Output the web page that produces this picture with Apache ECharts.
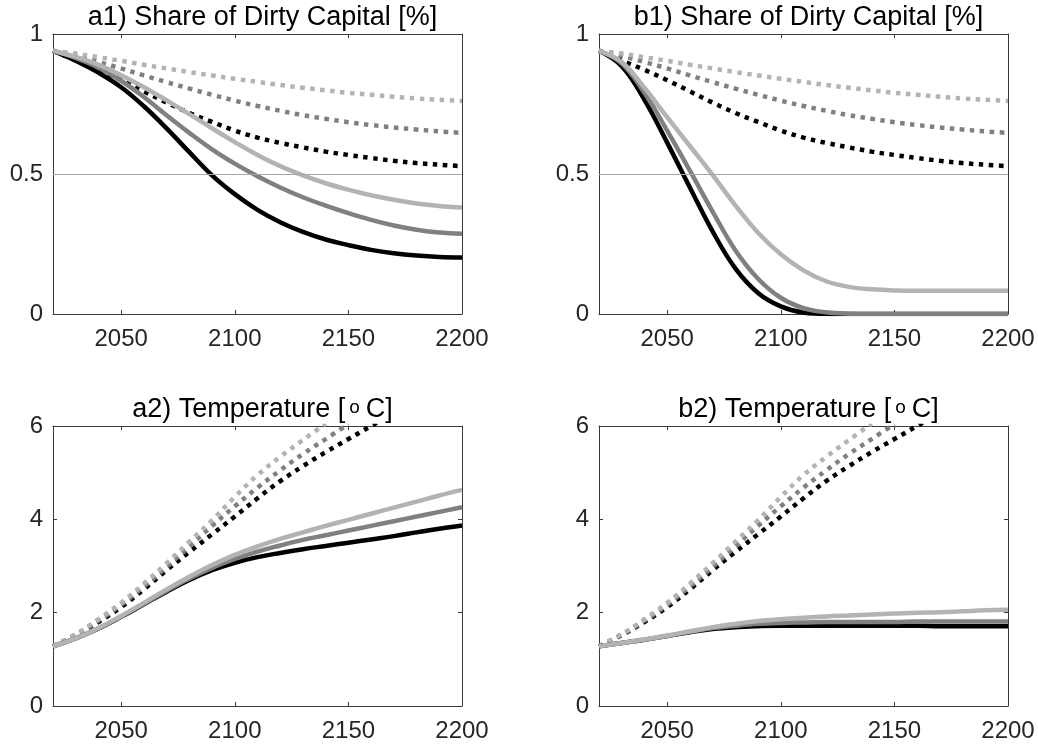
<!DOCTYPE html>
<html>
<head>
<meta charset="utf-8">
<title>Dirty capital share and temperature paths</title>
<script src="https://cdn.jsdelivr.net/npm/echarts@6/dist/echarts.min.js"></script>
<style>
  html, body { margin: 0; padding: 0; background: #ffffff; }
  #chart { width: 1038px; height: 748px; }
</style>
</head>
<body>
<div id="chart"></div>
<script>
// ---- data -------------------------------------------------------------
const years = [2020, 2030, 2040, 2050, 2060, 2070, 2080, 2090, 2100, 2110,
               2120, 2130, 2140, 2150, 2160, 2170, 2180, 2190, 2200];

const xTicks = [2050, 2100, 2150, 2200];
const shareTicksInterval = 0.5;
const tempTicksInterval = 2;
const threshold = 0.5;

// the degree ring is a small rich-text token so it can be sized on its own
const panelTitles = [
  'a1) Share of Dirty Capital [%]',
  'b1) Share of Dirty Capital [%]',
  'a2) Temperature [{deg|o}C]',
  'b2) Temperature [{deg|o}C]'
];

// share of dirty capital, panel a (solid)
const shareA_black = [0.94, 0.905, 0.862, 0.81, 0.742, 0.663, 0.578, 0.495, 0.428, 0.372,
                      0.328, 0.293, 0.266, 0.246, 0.229, 0.217, 0.209, 0.204, 0.202];
const shareA_gray  = [0.94, 0.915, 0.88, 0.833, 0.775, 0.71, 0.647, 0.588, 0.537, 0.492,
                      0.452, 0.417, 0.387, 0.36, 0.336, 0.316, 0.301, 0.291, 0.287];
const shareA_light = [0.94, 0.918, 0.89, 0.853, 0.81, 0.763, 0.714, 0.663, 0.614, 0.568,
                      0.528, 0.495, 0.467, 0.444, 0.424, 0.408, 0.395, 0.386, 0.38];

// share of dirty capital, panel b (solid)
const shareB_black = [0.94, 0.885, 0.765, 0.612, 0.452, 0.295, 0.163, 0.075, 0.027, 0.005,
                      0, 0, 0, 0, 0, 0, 0, 0, 0];
const shareB_gray  = [0.94, 0.895, 0.79, 0.655, 0.512, 0.366, 0.228, 0.126, 0.058, 0.021,
                      0.006, 0.001, 0, 0, 0, 0, 0, 0, 0];
const shareB_light = [0.94, 0.9, 0.808, 0.703, 0.6, 0.497, 0.388, 0.29, 0.213, 0.156,
                      0.117, 0.097, 0.088, 0.084, 0.083, 0.083, 0.083, 0.083, 0.083];

// share of dirty capital, dotted paths (same in both panels)
const shareDot_black = [0.94, 0.905, 0.872, 0.835, 0.795, 0.755, 0.718, 0.686, 0.655, 0.63,
                        0.611, 0.595, 0.58, 0.568, 0.557, 0.547, 0.539, 0.533, 0.528];
const shareDot_gray  = [0.94, 0.922, 0.9, 0.877, 0.852, 0.828, 0.805, 0.783, 0.762, 0.743,
                        0.726, 0.71, 0.697, 0.685, 0.675, 0.666, 0.659, 0.652, 0.647];
const shareDot_light = [0.94, 0.93, 0.917, 0.904, 0.89, 0.877, 0.864, 0.852, 0.84, 0.829,
                        0.818, 0.808, 0.799, 0.79, 0.783, 0.776, 0.77, 0.765, 0.761];

// temperature, panel a (solid)
const tempA_black = [1.28, 1.45, 1.66, 1.91, 2.18, 2.45, 2.7, 2.91, 3.07, 3.19,
                     3.28, 3.36, 3.43, 3.5, 3.57, 3.64, 3.72, 3.8, 3.87];
const tempA_gray  = [1.28, 1.45, 1.66, 1.92, 2.19, 2.47, 2.73, 2.96, 3.15, 3.31,
                     3.44, 3.56, 3.66, 3.76, 3.86, 3.96, 4.06, 4.16, 4.26];
const tempA_light = [1.28, 1.45, 1.67, 1.93, 2.21, 2.5, 2.77, 3.02, 3.24, 3.42,
                     3.58, 3.72, 3.86, 3.99, 4.12, 4.25, 4.38, 4.51, 4.63];

// temperature, panel b (solid)
const tempB_black = [1.28, 1.35, 1.42, 1.5, 1.58, 1.65, 1.69, 1.71, 1.72, 1.72,
                     1.72, 1.72, 1.72, 1.72, 1.72, 1.71, 1.71, 1.71, 1.71];
const tempB_gray  = [1.28, 1.35, 1.42, 1.5, 1.59, 1.67, 1.72, 1.76, 1.78, 1.79,
                     1.8, 1.8, 1.8, 1.8, 1.81, 1.81, 1.81, 1.81, 1.81];
const tempB_light = [1.28, 1.35, 1.43, 1.51, 1.6, 1.69, 1.76, 1.82, 1.86, 1.89,
                     1.92, 1.94, 1.96, 1.98, 2.0, 2.01, 2.03, 2.05, 2.06];

// temperature, dotted paths (same in both panels; run past the top of the axis)
const tempDot_black = [1.28, 1.52, 1.8, 2.12, 2.5, 2.91, 3.3, 3.68, 4.06, 4.45,
                       4.82, 5.14, 5.44, 5.72, 6.0, 6.27];
const tempDot_gray  = [1.28, 1.53, 1.83, 2.17, 2.56, 2.98, 3.42, 3.86, 4.28, 4.68,
                       5.05, 5.4, 5.72, 6.04];
const tempDot_light = [1.28, 1.54, 1.86, 2.21, 2.62, 3.06, 3.52, 3.98, 4.48, 4.95,
                       5.34, 5.7, 6.05];

// ---- styling ----------------------------------------------------------
const FONT = '"Liberation Sans", Arial, Helvetica, sans-serif';
const AXIS_COLOR = '#3a3a3a';
const C_BLACK = '#000000';
const C_GRAY = '#808080';
const C_LIGHT = '#b3b3b3';

const grids = [
  { left: 53,  top: 34,  width: 409, height: 280 },
  { left: 599, top: 34,  width: 409, height: 280 },
  { left: 53,  top: 426, width: 409, height: 280 },
  { left: 599, top: 426, width: 409, height: 280 }
];

const zip = (vals) => vals.map((v, i) => [years[i], v]);

const panels = [
  { solid: [shareA_black, shareA_gray, shareA_light],
    dotted: [shareDot_black, shareDot_gray, shareDot_light],
    yMax: 1, yInterval: shareTicksInterval, refLine: true },
  { solid: [shareB_black, shareB_gray, shareB_light],
    dotted: [shareDot_black, shareDot_gray, shareDot_light],
    yMax: 1, yInterval: shareTicksInterval, refLine: true },
  { solid: [tempA_black, tempA_gray, tempA_light],
    dotted: [tempDot_black, tempDot_gray, tempDot_light],
    yMax: 6, yInterval: tempTicksInterval, refLine: false },
  { solid: [tempB_black, tempB_gray, tempB_light],
    dotted: [tempDot_black, tempDot_gray, tempDot_light],
    yMax: 6, yInterval: tempTicksInterval, refLine: false }
];

const colors = [C_BLACK, C_GRAY, C_LIGHT];

const xAxes = [];
const yAxes = [];
const series = [];
const titles = [];

panels.forEach((p, i) => {
  const g = grids[i];
  titles.push({
    text: panelTitles[i],
    left: g.left + g.width / 2,
    top: g.top - 37,
    textAlign: 'center',
    textStyle: {
      fontFamily: FONT, fontSize: 27, lineHeight: 31, fontWeight: 'normal', color: '#000',
      rich: {
        deg: { fontFamily: FONT, fontSize: 19, lineHeight: 31, color: '#000',
               padding: [0, 6, 4, 4] }
      }
    }
  });

  const axisLine = { show: true, onZero: false, lineStyle: { color: AXIS_COLOR, width: 1 } };
  const tick = { show: true, inside: true, length: 4, lineStyle: { color: AXIS_COLOR, width: 1 } };

  // bottom x axis with labels
  xAxes.push({
    type: 'value', gridIndex: i, position: 'bottom', min: 2020, max: 2200,
    axisLine: axisLine,
    axisTick: Object.assign({}, tick, { customValues: xTicks }),
    axisLabel: {
      show: true, customValues: xTicks, margin: 13,
      formatter: (v) => String(v),
      fontFamily: FONT, fontSize: 24, color: '#262626'
    },
    splitLine: { show: false }
  });
  // top x axis: ticks only
  xAxes.push({
    type: 'value', gridIndex: i, position: 'top', min: 2020, max: 2200,
    axisLine: axisLine,
    axisTick: Object.assign({}, tick, { customValues: xTicks }),
    axisLabel: { show: false },
    splitLine: { show: false }
  });
  // left y axis with labels
  yAxes.push({
    type: 'value', gridIndex: i, position: 'left', min: 0, max: p.yMax, interval: p.yInterval,
    axisLine: axisLine, axisTick: tick,
    axisLabel: { show: true, margin: 10, formatter: (v) => String(v),
                 fontFamily: FONT, fontSize: 24, color: '#262626' },
    splitLine: { show: false }
  });
  // right y axis: ticks only
  yAxes.push({
    type: 'value', gridIndex: i, position: 'right', min: 0, max: p.yMax, interval: p.yInterval,
    axisLine: axisLine, axisTick: tick,
    axisLabel: { show: false },
    splitLine: { show: false }
  });

  const xIdx = i * 2;
  const yIdx = i * 2;

  // dotted paths drawn first
  p.dotted.forEach((vals, k) => {
    series.push({
      type: 'line', xAxisIndex: xIdx, yAxisIndex: yIdx,
      data: zip(vals), showSymbol: false, smooth: 0.4, clip: true,
      lineStyle: { color: colors[k], width: 4.5, type: [4.5, 5.5], cap: 'butt' },
      z: 2
    });
  });
  // solid paths on top
  p.solid.forEach((vals, k) => {
    series.push({
      type: 'line', xAxisIndex: xIdx, yAxisIndex: yIdx,
      data: zip(vals), showSymbol: false, smooth: 0.4, clip: true,
      lineStyle: { color: colors[k], width: 4.5, type: 'solid' },
      z: 3
    });
  });
  if (p.refLine) {
    series.push({
      type: 'line', xAxisIndex: xIdx, yAxisIndex: yIdx, data: [],
      markLine: {
        silent: true, symbol: 'none', animation: false,
        label: { show: false },
        lineStyle: { color: '#a6a6a6', width: 1.2, type: 'solid' },
        data: [{ yAxis: threshold }]
      },
      z: 4
    });
  }
});

const chart = echarts.init(document.getElementById('chart'), null, { renderer: 'canvas' });
chart.setOption({
  backgroundColor: '#ffffff',
  animation: false,
  title: titles,
  grid: grids.map(g => Object.assign({ containLabel: false }, g)),
  xAxis: xAxes,
  yAxis: yAxes,
  series: series
});
</script>
</body>
</html>
